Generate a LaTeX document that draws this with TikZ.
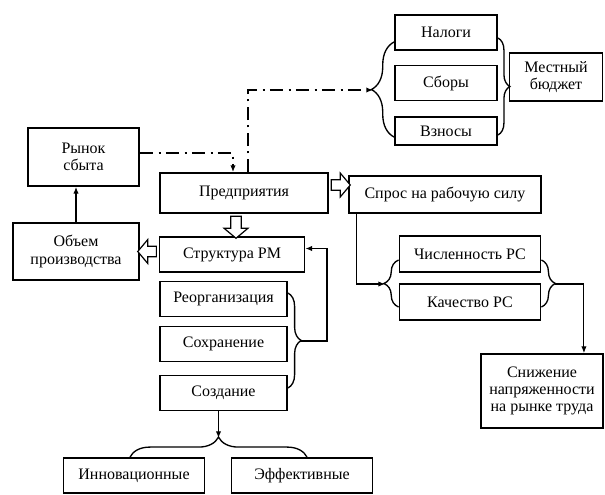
\documentclass[tikz,border=0pt]{standalone}
\usepackage{fontspec}
\setmainfont{Liberation Serif}
\usetikzlibrary{arrows.meta,calc,decorations.pathreplacing,shapes.arrows}

\begin{document}
\begin{tikzpicture}[x=0.75pt,y=-0.75pt, font=\fontsize{12}{13}\selectfont,
    box/.style={draw, line width=1.4pt, align=center, inner sep=2pt},
    >={Latex[length=5pt,width=4pt]},
    link/.style={line width=0.8pt},
    budgetline/.style={line width=1.2pt, dash pattern=on 10pt off 4pt on 1.5pt off 4pt},
    hollow/.style={single arrow, draw, fill=white, line width=0.9pt, inner sep=3.5pt, outer sep=0pt,
        single arrow head extend=5pt, single arrow tip angle=100, minimum width=0pt},
    brace/.style={decorate, line width=1pt, decoration={brace, amplitude=#1}}]

    \useasboundingbox (0,0) rectangle (605,494);

        % Nodes
        \node (nalogi) [box, minimum width=76.5pt, minimum height=26.25pt] at (446,32.5) {Налоги};
        \node (sbory) [box, minimum width=76.5pt, minimum height=26.25pt] at (446,83) {Сборы};
        \node (vznosy) [box, minimum width=76.5pt, minimum height=21pt] at (446,131) {Взносы};
        \node (budget) [box, minimum width=69.75pt, minimum height=36pt] at (556,77) {Местный\\бюджет};
        \node (rynok) [box, minimum width=83.25pt, minimum height=43.5pt] at (83.5,157) {Рынок\\сбыта};
        \node (predpr) [box, minimum width=126pt, minimum height=30pt] at (244,193) {Предприятия};
        \node (spros) [box, minimum width=144pt, minimum height=27.75pt] at (445,194.5) {Спрос на рабочую силу};
        \node (struct) [box, minimum width=108.75pt, minimum height=26.25pt] at (232,254.5) {Структура РМ};
        \node (obem) [box, minimum width=94.5pt, minimum height=42.75pt] at (76,251.5) {Объем\\производства};
        \node (reorg) [box, minimum width=95.25pt, minimum height=26.25pt] at (223.5,299) {Реорганизация};
        \node (sohr) [box, minimum width=95.25pt, minimum height=26.25pt] at (223.5,344) {Сохранение};
        \node (sozd) [box, minimum width=95.25pt, minimum height=26.25pt] at (223.5,393) {Создание};
        \node (innov) [box, minimum width=105.75pt, minimum height=26.25pt] at (134,475.5) {Инновационные};
        \node (effekt) [box, minimum width=105.75pt, minimum height=26.25pt] at (302,475.5) {Эффективные};
        \node (chisl) [box, minimum width=105.75pt, minimum height=27pt] at (470,254) {Численность РС};
        \node (kach) [box, minimum width=105.75pt, minimum height=27pt] at (470,302) {Качество РС};
        \node (snizh) [box, minimum width=91.5pt, minimum height=55.5pt] at (542,391) {Снижение\\напряженности\\на рынке труда};

        % Brace tips
        \coordinate (taxtip) at (373,90);
        \coordinate (rmtip) at (300,341);
        \coordinate (bottip) at (218.5,438);
        \coordinate (rsleft) at (385,284);
        \coordinate (rsright) at (555,284);

        % Braces
        \draw[brace=17pt] ($(vznosy.west)+(0,6)$) -- ($(nalogi.west)+(0,9.5)$);
        \draw[brace=9pt] ($(nalogi.east)+(0,5.5)$) -- ($(vznosy.east)+(0,4)$);
        \draw[brace=10pt] ($(reorg.east)+(0,-6)$) -- ($(sozd.east)+(0,-5)$);
        \draw[brace=15pt] ($(innov.north)+(-4,0)$) -- ($(effekt.north)+(5,0)$);
        \draw[brace=11pt] ($(kach.west)+(0,5)$) -- ($(chisl.west)+(0,6)$);
        \draw[brace=10.5pt] ($(chisl.east)+(0,6)$) -- ($(kach.east)+(0,5)$);

        % Arrows
        \draw[budgetline,->] ($(predpr.north)+(4,0)$) |- (taxtip);
        \draw[budgetline,->] ($(rynok.east)+(0,-4)$) -| ($(predpr.north)+(-11,0)$);
        \draw[link,->] (obem.north) -- (obem.north |- rynok.south);
        \draw[link,->] (rmtip) -- ++(27,0) |- ($(struct.east)+(0,-6)$);
        \draw[link,->] (bottip |- sozd.south) -- (bottip);
        \draw[link,->] ($(spros.south west)+(8,0)$) |- (rsleft);
        \draw[link,->] (rsright) -| ($(snizh.north east)+(-20,0)$);

        % Hollow arrows
        \coordinate (h1) at ($(predpr.east)+(0,-8)$);
        \coordinate (h2) at ($(predpr.south)+(-8,0)$);
        \coordinate (h3) at (struct.west |- obem.east);
        \path let \p1=($(h1 -| spros.west)-(h1)$), \n1={veclen(\x1,\y1)} in
            node[hollow, minimum height=\n1, shape border rotate=0] at ($(h1)!0.5!(h1 -| spros.west)$) {};
        \path let \p1=($(h2 |- struct.north)-(h2)$), \n1={veclen(\x1,\y1)} in
            node[hollow, minimum height=\n1, shape border rotate=270] at ($(h2)!0.5!(h2 |- struct.north)$) {};
        \path let \p1=($(obem.east)-(h3)$), \n1={veclen(\x1,\y1)} in
            node[hollow, minimum height=\n1, shape border rotate=180] at ($(h3)!0.5!(obem.east)$) {};

    \end{tikzpicture}
\end{document}
